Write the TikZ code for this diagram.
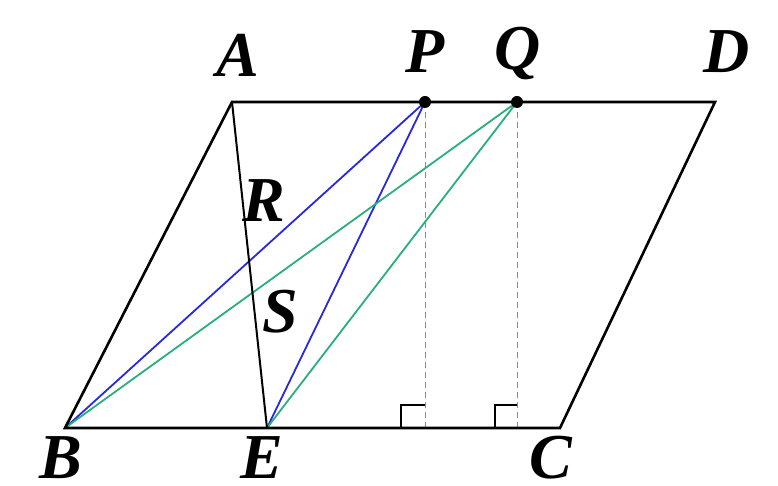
\documentclass[tikz,border=0pt]{standalone}
\usepackage{fontspec}
\setmainfont{Liberation Serif}
\usetikzlibrary{calc}
\definecolor{figB}{RGB}{40,40,225}
\definecolor{figG}{RGB}{40,175,125}
\tikzset{lbl/.style={font=\fontsize{32}{33}\selectfont\bfseries\itshape,inner sep=0pt},
  side/.style={line width=1.3pt,black},
  foot/.style={densely dashed,black!45,line width=0.45pt}}

\begin{document}
\begin{tikzpicture}[x=0.5pt,y=-0.5pt]
\useasboundingbox (0,0) rectangle (778,486);
\coordinate (A) at (232,102); \coordinate (D) at (715,102);
\coordinate (B) at (65,428); \coordinate (C) at (560,428);
\coordinate (E) at (267,428);
\coordinate (P) at (425,102); \coordinate (Q) at (517,102);
\coordinate (Pf) at (425,428); \coordinate (Qf) at (517,428);
% feet of the perpendiculars
\draw[foot] (P)--(Pf); \draw[foot] (Q)--(Qf);
\draw[line width=1pt] ($(Pf)+(-24,0)$)--++(0,-23)--++(24,0);
\draw[line width=1pt] ($(Qf)+(-22,0)$)--++(0,-23)--++(22,0);
% coloured segments
\draw[figB,line width=0.9pt] (B)--(P)--(E);
\draw[figG,line width=0.9pt] (B)--(Q)--(E);
\draw[line width=1pt] (A)--(E);
\draw[side] (A)--(D)--(C)--(B)--cycle;
\fill (P) circle (6); \fill (Q) circle (6);
% labels
\node[lbl] (lA) at (238,55) {A};
\node[lbl] (lP) at (425,52) {P};
\node[lbl] (lQ) at (518,54) {Q};
\node[lbl] (lD) at (727,52) {D};
\node[lbl] (lB) at (61,458) {B};
\node[lbl] (lE) at (262,458) {E};
\node[lbl] (lC) at (551,458) {C};
\node[lbl] (lR) at (264,201) {R};
\node[lbl] (lS) at (280,312) {S};
\end{tikzpicture}
\end{document}
